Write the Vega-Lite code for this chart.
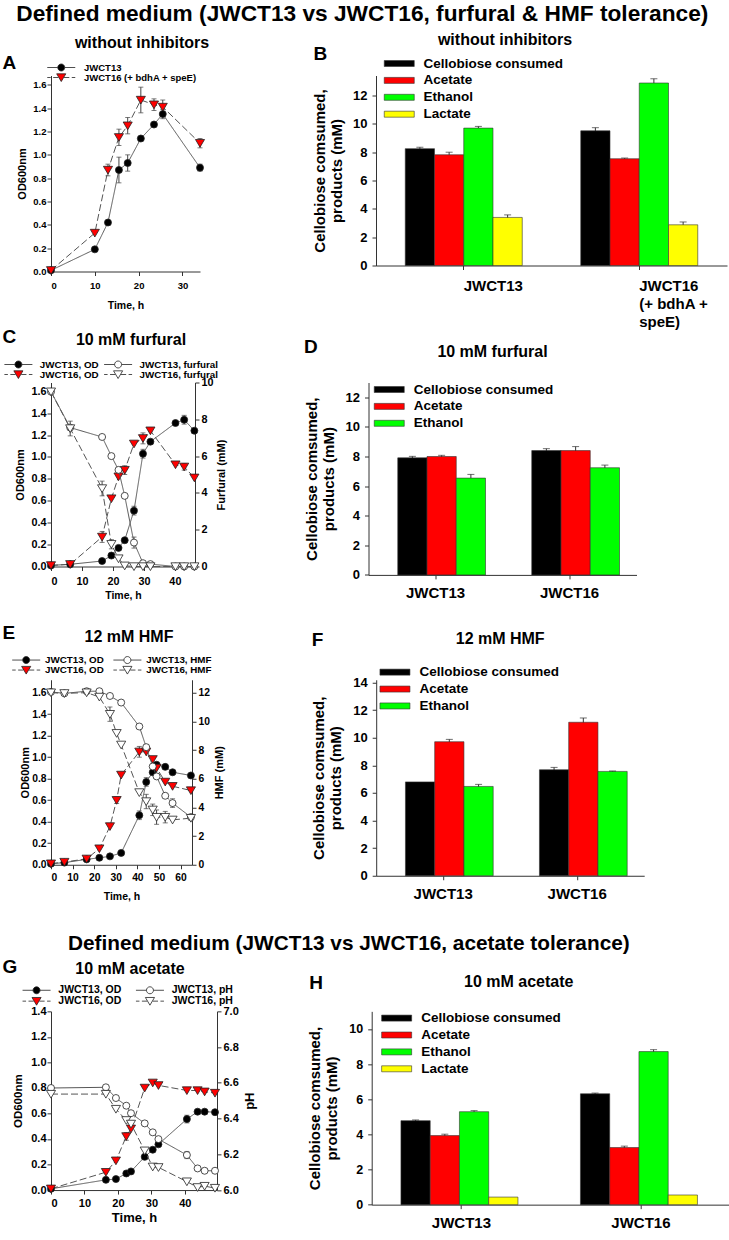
{
"$schema":"https://vega.github.io/schema/vega-lite/v6.json",
"padding":{"left":2,"top":2.5,"right":0,"bottom":0},
"title":{"text":"Defined medium (JWCT13 vs JWCT16, furfural & HMF tolerance)","fontSize":22.7,"anchor":"middle","baseline":"middle","offset":-5,"dx":-4},
"config":{
 "font":"Liberation Sans",
 "view":{"stroke":null},
 "title":{"font":"Liberation Sans","fontWeight":"bold","color":"#000"},
 "axis":{"labelFont":"Liberation Sans","titleFont":"Liberation Sans","labelFontWeight":"bold","titleFontWeight":"bold","labelColor":"#000","titleColor":"#000","domainColor":"#333","tickColor":"#333","grid":false,"tickSize":4},
 "legend":{"labelFont":"Liberation Sans","labelFontWeight":"bold","labelColor":"#000","padding":0}
},
"resolve":{"scale":{"fill":"independent","shape":"independent","strokeDash":"independent"}},
"spacing":-2,
"vconcat":[
{"spacing":98,"resolve":{"scale":{"fill":"independent","shape":"independent","strokeDash":"independent"}},"hconcat":[
 {"vconcat":[
 {"width":149,"height":196,
  "title":{"text":"without inhibitors","fontSize":16,"anchor":"middle","frame":"group","offset":0,"baseline":"middle","dx":16.5,"dy":5.2},
  "data":{"values":[
   {"s":"JWCT13","t":0,"v":0.01},{"s":"JWCT13","t":10,"v":0.19},{"s":"JWCT13","t":13,"v":0.42},{"s":"JWCT13","t":15.5,"v":0.87,"e":0.11},{"s":"JWCT13","t":17.5,"v":0.93,"e":0.07},{"s":"JWCT13","t":20.5,"v":1.14},{"s":"JWCT13","t":23.5,"v":1.26},{"s":"JWCT13","t":25.5,"v":1.35,"e":0.04},{"s":"JWCT13","t":34,"v":0.89,"e":0.03},
   {"s":"JWCT16 (+ bdhA + speE)","t":0,"v":0.01},{"s":"JWCT16 (+ bdhA + speE)","t":10,"v":0.33},{"s":"JWCT16 (+ bdhA + speE)","t":13,"v":0.87,"e":0.05},{"s":"JWCT16 (+ bdhA + speE)","t":15.5,"v":1.15,"e":0.07},{"s":"JWCT16 (+ bdhA + speE)","t":17.5,"v":1.25,"e":0.07},{"s":"JWCT16 (+ bdhA + speE)","t":20.5,"v":1.47,"e":0.11},{"s":"JWCT16 (+ bdhA + speE)","t":23.5,"v":1.43,"e":0.05},{"s":"JWCT16 (+ bdhA + speE)","t":25.5,"v":1.41,"e":0.06},{"s":"JWCT16 (+ bdhA + speE)","t":34,"v":1.10,"e":0.04}
  ]},
  "layer":[
   {"mark":{"type":"line","color":"#555","strokeWidth":1},
    "encoding":{
     "x":{"field":"t","type":"quantitative","scale":{"domain":[0,34],"nice":false,"zero":false},"axis":{"orient":"bottom","values":[0,10,20,30],"title":"Time, h","labelFontSize":9.5,"titleFontSize":10.5,"labelPadding":5,"titlePadding":10}},
     "y":{"field":"v","type":"quantitative","scale":{"domain":[0,1.68],"nice":false},"axis":{"orient":"left","values":[0,0.2,0.4,0.6,0.8,1.0,1.2,1.4,1.6],"format":".1f","title":"OD600nm","labelFontSize":9.5,"titleFontSize":11,"labelPadding":1,"titlePadding":5}},
     "strokeDash":{"field":"s","type":"nominal","scale":{"range":[[1,0],[7,3]]},"legend":null}}},
   {"transform":[{"filter":"datum.e > 0"}],
    "mark":{"type":"errorbar","ticks":{"size":5},"color":"#444"},
    "encoding":{
     "x":{"field":"t","type":"quantitative","scale":{"domain":[0,34],"nice":false,"zero":false},"axis":null},
     "y":{"field":"v","type":"quantitative","scale":{"domain":[0,1.68],"nice":false},"axis":{"orient":"left","values":[0,0.2,0.4,0.6,0.8,1.0,1.2,1.4,1.6],"format":".1f","title":"OD600nm","labelFontSize":9.5,"titleFontSize":11,"labelPadding":1,"titlePadding":5}},
     "yError":{"field":"e"}}},
   {"transform":[{"filter":"indexof(datum.s,'JWCT13')>=0"}],
    "mark":{"type":"point","shape":"circle","filled":true,"fill":"#000000","size":49,"stroke":"#222","strokeWidth":0.8,"opacity":1},
    "encoding":{
     "x":{"field":"t","type":"quantitative","scale":{"domain":[0,34],"nice":false,"zero":false},"axis":null},
     "y":{"field":"v","type":"quantitative","scale":{"domain":[0,1.68],"nice":false},"axis":{"orient":"left","values":[0,0.2,0.4,0.6,0.8,1.0,1.2,1.4,1.6],"format":".1f","title":"OD600nm","labelFontSize":9.5,"titleFontSize":11,"labelPadding":1,"titlePadding":5}}}},
   {"transform":[{"filter":"indexof(datum.s,'JWCT16')>=0"}],
    "mark":{"type":"point","shape":"M0,1.15L-1.3,-1.05L1.3,-1.05Z","filled":true,"fill":"#ff0000","size":49,"stroke":"#222","strokeWidth":0.8,"opacity":1},
    "encoding":{
     "x":{"field":"t","type":"quantitative","scale":{"domain":[0,34],"nice":false,"zero":false},"axis":{"orient":"top","labels":false,"ticks":false,"domain":false,"title":"A","titleFontSize":19,"titleX":-49,"titleY":-13,"titleAlign":"left","titleBaseline":"middle","titleAngle":0}},
     "y":{"field":"v","type":"quantitative","scale":{"domain":[0,1.68],"nice":false},"axis":{"orient":"left","values":[0,0.2,0.4,0.6,0.8,1.0,1.2,1.4,1.6],"format":".1f","title":"OD600nm","labelFontSize":9.5,"titleFontSize":11,"labelPadding":1,"titlePadding":5}}}},
   {"mark":{"type":"point","filled":true,"size":49,"opacity":0},
    "encoding":{
     "x":{"field":"t","type":"quantitative","scale":{"domain":[0,34],"nice":false,"zero":false},"axis":null},
     "y":{"field":"v","type":"quantitative","scale":{"domain":[0,1.68],"nice":false},"axis":{"orient":"left","values":[0,0.2,0.4,0.6,0.8,1.0,1.2,1.4,1.6],"format":".1f","title":"OD600nm","labelFontSize":9.5,"titleFontSize":11,"labelPadding":1,"titlePadding":5}},
     "shape":{"field":"s","type":"nominal","scale":{"domain":["JWCT13","JWCT16 (+ bdhA + speE)"],"range":["M-4,0L-1,0M1,0L4,0M-1,0A1,1,0,1,0,1,0A1,1,0,1,0,-1,0Z","M-4,0L-3,0M-2.3,0L-0.8,0M0.8,0L2.3,0M3,0L4,0M0,1.15L-1.3,-1.05L1.3,-1.05Z"]},"legend":{"title":null,"orient":"none","legendX":5.5,"legendY":-12.75,"labelFontSize":9.5,"labelOffset":18,"rowPadding":-1.5,"symbolSize":49,"symbolOpacity":1,"encode":{"symbols":{"update":{"stroke":{"value":"#222"},"strokeWidth":{"value":0.8},"opacity":{"value":1}}}}}},
     "fill":{"field":"s","type":"nominal","scale":{"domain":["JWCT13","JWCT16 (+ bdhA + speE)"],"range":["#000000","#ff0000"]},"legend":{"title":null,"orient":"none","legendX":5.5,"legendY":-12.75,"labelFontSize":9.5,"labelOffset":18,"rowPadding":-1.5,"symbolSize":49,"symbolOpacity":1,"encode":{"symbols":{"update":{"stroke":{"value":"#222"},"strokeWidth":{"value":0.8},"opacity":{"value":1}}}}}}}}
  ]}]},
 {"vconcat":[
 {"width":351,"height":190,
  "title":{"text":"without inhibitors","fontSize":16,"anchor":"middle","frame":"group","offset":0,"baseline":"middle","dx":-46.5,"dy":11.5},
  "data":{"values":[
   {"strain":"JWCT13","p":"Cellobiose consumed","v":8.24,"e":0.1},{"strain":"JWCT13","p":"Acetate","v":7.81,"e":0.18},{"strain":"JWCT13","p":"Ethanol","v":9.69,"e":0.12},{"strain":"JWCT13","p":"Lactate","v":3.39,"e":0.18},
   {"strain":"JWCT16","p":"Cellobiose consumed","v":9.5,"e":0.22},{"strain":"JWCT16","p":"Acetate","v":7.53,"e":0.05},{"strain":"JWCT16","p":"Ethanol","v":12.87,"e":0.3},{"strain":"JWCT16","p":"Lactate","v":2.87,"e":0.2}
  ]},
  "layer":[
   {"transform":[{"filter":"datum.e > 0"}],
    "mark":{"type":"errorbar","ticks":{"size":7},"color":"#333"},
    "encoding":{
     "x":{"field":"strain","type":"nominal","scale":{"paddingInner":0,"paddingOuter":0},"axis":{"orient":"top","labels":false,"ticks":false,"domain":false,"title":"B","titleFontSize":19,"titleX":-63,"titleY":-22,"titleAlign":"left","titleBaseline":"middle","titleAngle":0}},
     "xOffset":{"field":"p","type":"nominal","scale":{"domain":["Cellobiose consumed","Acetate","Ethanol","Lactate"],"paddingInner":0,"paddingOuter":1.31}},
     "y":{"field":"v","type":"quantitative","scale":{"domain":[0,13.4],"nice":false},"axis":{"values":[0,2,4,6,8,10,12],"format":"d","title":["Cellobiose comsumed,","products (mM)"],"labelFontSize":13,"titleFontSize":15,"titleLineHeight":17,"labelPadding":5,"titlePadding":8}},
     "yError":{"field":"e"}}},
   {"mark":{"type":"bar","stroke":"#333","strokeWidth":0.6},
    "encoding":{
     "x":{"field":"strain","type":"nominal","scale":{"paddingInner":0,"paddingOuter":0},"axis":{"orient":"bottom","title":null,"labelAngle":0,"labelFontSize":15,"labelPadding":9,"labelAlign":"left","labelDx":-29,"labelLineHeight":18,"labelExpr":"datum.value == 'JWCT16' ? ['JWCT16', '(+ bdhA +', 'speE)'] : datum.value"}},
     "xOffset":{"field":"p","type":"nominal","scale":{"domain":["Cellobiose consumed","Acetate","Ethanol","Lactate"],"paddingInner":0,"paddingOuter":1.31}},
     "y":{"field":"v","type":"quantitative","scale":{"domain":[0,13.4],"nice":false},"axis":{"values":[0,2,4,6,8,10,12],"format":"d","title":["Cellobiose comsumed,","products (mM)"],"labelFontSize":13,"titleFontSize":15,"titleLineHeight":17,"labelPadding":5,"titlePadding":8}},
     "fill":{"field":"p","type":"nominal","scale":{"domain":["Cellobiose consumed","Acetate","Ethanol","Lactate"],"range":["#000000","#ff0000","#00ff00","#ffff00"]},
      "legend":{"title":null,"orient":"none","legendX":16.5,"legendY":-18.75,"symbolType":"M-3,-0.6H3V0.6H-3Z","symbolSize":100,"symbolStrokeColor":"#333","symbolStrokeWidth":0.6,"labelFontSize":13.5,"labelOffset":17.5,"rowPadding":1.9,"encode":{"symbols":{"update":{"stroke":{"value":"#333"},"strokeWidth":{"value":0.6}}}}}}}}
  ]}]}
]},
{"spacing":22.25,"resolve":{"scale":{"fill":"independent","shape":"independent","strokeDash":"independent"}},"vconcat":[
 {"spacing":76.5,"resolve":{"scale":{"fill":"independent","shape":"independent","strokeDash":"independent"}},"hconcat":[
  {"vconcat":[
  {"width":144,"height":184,
   "title":{"text":"10 mM furfural","fontSize":16,"anchor":"middle","frame":"group","offset":0,"baseline":"middle","dx":8,"dy":28.7},
   "data":{"values":[
    {"s":"JWCT13, OD","k":"OD","t":0,"v":0.01},{"s":"JWCT13, OD","k":"OD","t":6.2,"v":0.02},{"s":"JWCT13, OD","k":"OD","t":16.5,"v":0.05},{"s":"JWCT13, OD","k":"OD","t":19.5,"v":0.10},{"s":"JWCT13, OD","k":"OD","t":21.8,"v":0.17},{"s":"JWCT13, OD","k":"OD","t":23.8,"v":0.24},{"s":"JWCT13, OD","k":"OD","t":26.8,"v":0.51,"e":0.04},{"s":"JWCT13, OD","k":"OD","t":29.7,"v":1.03,"e":0.04},{"s":"JWCT13, OD","k":"OD","t":32.1,"v":1.14},{"s":"JWCT13, OD","k":"OD","t":40.2,"v":1.31},{"s":"JWCT13, OD","k":"OD","t":43,"v":1.34,"e":0.04},{"s":"JWCT13, OD","k":"OD","t":46.3,"v":1.24},
    {"s":"JWCT16, OD","k":"OD","t":0,"v":0.01},{"s":"JWCT16, OD","k":"OD","t":6.2,"v":0.02},{"s":"JWCT16, OD","k":"OD","t":16.5,"v":0.27,"e":0.05},{"s":"JWCT16, OD","k":"OD","t":19.5,"v":0.62},{"s":"JWCT16, OD","k":"OD","t":21.8,"v":0.82},{"s":"JWCT16, OD","k":"OD","t":23.8,"v":0.88,"e":0.04},{"s":"JWCT16, OD","k":"OD","t":26.8,"v":1.12},{"s":"JWCT16, OD","k":"OD","t":29.7,"v":1.17,"e":0.05},{"s":"JWCT16, OD","k":"OD","t":32.1,"v":1.24},{"s":"JWCT16, OD","k":"OD","t":40.2,"v":0.93},{"s":"JWCT16, OD","k":"OD","t":43,"v":0.91,"e":0.03},{"s":"JWCT16, OD","k":"OD","t":46.3,"v":0.81},
    {"s":"JWCT13, furfural","k":"F","t":0,"v":9.5},{"s":"JWCT13, furfural","k":"F","t":6.2,"v":7.55},{"s":"JWCT13, furfural","k":"F","t":16.5,"v":7.04},{"s":"JWCT13, furfural","k":"F","t":19.5,"v":6.0},{"s":"JWCT13, furfural","k":"F","t":21.8,"v":5.25},{"s":"JWCT13, furfural","k":"F","t":23.8,"v":3.84},{"s":"JWCT13, furfural","k":"F","t":26.8,"v":1.3,"e":0.3},{"s":"JWCT13, furfural","k":"F","t":29.7,"v":0.18},{"s":"JWCT13, furfural","k":"F","t":32.1,"v":0.13},{"s":"JWCT13, furfural","k":"F","t":40.2,"v":0},{"s":"JWCT13, furfural","k":"F","t":43,"v":0},{"s":"JWCT13, furfural","k":"F","t":46.3,"v":0},
    {"s":"JWCT16, furfural","k":"F","t":0,"v":9.5},{"s":"JWCT16, furfural","k":"F","t":6.2,"v":7.5,"e":0.4},{"s":"JWCT16, furfural","k":"F","t":16.5,"v":4.24,"e":0.4},{"s":"JWCT16, furfural","k":"F","t":19.5,"v":1.21,"e":0.25},{"s":"JWCT16, furfural","k":"F","t":21.8,"v":0.43},{"s":"JWCT16, furfural","k":"F","t":23.8,"v":0.04},{"s":"JWCT16, furfural","k":"F","t":26.8,"v":0},{"s":"JWCT16, furfural","k":"F","t":29.7,"v":0},{"s":"JWCT16, furfural","k":"F","t":32.1,"v":0},{"s":"JWCT16, furfural","k":"F","t":40.2,"v":0},{"s":"JWCT16, furfural","k":"F","t":43,"v":0},{"s":"JWCT16, furfural","k":"F","t":46.3,"v":0}
   ]},
   "resolve":{"scale":{"y":"independent"}},
   "layer":[
    {"transform":[{"filter":"datum.k == 'OD'"}],
     "layer":[
      {"mark":{"type":"line","color":"#555","strokeWidth":1},
       "encoding":{
        "x":{"field":"t","type":"quantitative","scale":{"domain":[0,46.5],"nice":false,"zero":false},"axis":{"orient":"bottom","values":[0,10,20,30,40],"title":"Time, h","labelFontSize":10.8,"titleFontSize":10.5,"labelPadding":4.5,"titlePadding":4.5}},
        "y":{"field":"v","type":"quantitative","scale":{"domain":[0,1.68],"nice":false},"axis":{"orient":"left","values":[0,0.2,0.4,0.6,0.8,1.0,1.2,1.4,1.6],"format":".1f","title":"OD600nm","labelFontSize":10.8,"titleFontSize":11,"labelPadding":1,"titlePadding":5.8}},
        "strokeDash":{"field":"s","type":"nominal","scale":{"range":[[1,0],[1,0],[7,3],[7,3]]},"legend":null}}},
      {"transform":[{"filter":"datum.e > 0"}],
       "mark":{"type":"errorbar","ticks":{"size":5},"color":"#444"},
       "encoding":{
        "x":{"field":"t","type":"quantitative","scale":{"domain":[0,46.5],"nice":false,"zero":false},"axis":null},
        "y":{"field":"v","type":"quantitative","scale":{"domain":[0,1.68],"nice":false},"axis":{"orient":"left","values":[0,0.2,0.4,0.6,0.8,1.0,1.2,1.4,1.6],"format":".1f","title":"OD600nm","labelFontSize":10.8,"titleFontSize":11,"labelPadding":1,"titlePadding":5.8}},
        "yError":{"field":"e"}}},
      {"transform":[{"filter":"indexof(datum.s,'JWCT13')>=0"}],
       "mark":{"type":"point","shape":"circle","filled":true,"fill":"#000000","size":49,"stroke":"#222","strokeWidth":0.8,"opacity":1},
       "encoding":{
        "x":{"field":"t","type":"quantitative","scale":{"domain":[0,46.5],"nice":false,"zero":false},"axis":null},
        "y":{"field":"v","type":"quantitative","scale":{"domain":[0,1.68],"nice":false},"axis":{"orient":"left","values":[0,0.2,0.4,0.6,0.8,1.0,1.2,1.4,1.6],"format":".1f","title":"OD600nm","labelFontSize":10.8,"titleFontSize":11,"labelPadding":1,"titlePadding":5.8}}}},
      {"transform":[{"filter":"indexof(datum.s,'JWCT16')>=0"}],
       "mark":{"type":"point","shape":"M0,1.15L-1.3,-1.05L1.3,-1.05Z","filled":true,"fill":"#ff0000","size":49,"stroke":"#222","strokeWidth":0.8,"opacity":1},
       "encoding":{
        "x":{"field":"t","type":"quantitative","scale":{"domain":[0,46.5],"nice":false,"zero":false},"axis":{"orient":"top","labels":false,"ticks":false,"domain":false,"title":"C","titleFontSize":19,"titleX":-49,"titleY":-46,"titleAlign":"left","titleBaseline":"middle","titleAngle":0}},
        "y":{"field":"v","type":"quantitative","scale":{"domain":[0,1.68],"nice":false},"axis":{"orient":"left","values":[0,0.2,0.4,0.6,0.8,1.0,1.2,1.4,1.6],"format":".1f","title":"OD600nm","labelFontSize":10.8,"titleFontSize":11,"labelPadding":1,"titlePadding":5.8}}}},
      {"mark":{"type":"point","filled":true,"size":49,"opacity":0},
       "encoding":{
        "x":{"field":"t","type":"quantitative","scale":{"domain":[0,46.5],"nice":false,"zero":false},"axis":null},
        "y":{"field":"v","type":"quantitative","scale":{"domain":[0,1.68],"nice":false},"axis":{"orient":"left","values":[0,0.2,0.4,0.6,0.8,1.0,1.2,1.4,1.6],"format":".1f","title":"OD600nm","labelFontSize":10.8,"titleFontSize":11,"labelPadding":1,"titlePadding":5.8}},
        "shape":{"field":"s","type":"nominal","scale":{"domain":["JWCT13, OD","JWCT13, furfural","JWCT16, OD","JWCT16, furfural"],"range":["M-4,0L-1,0M1,0L4,0M-1,0A1,1,0,1,0,1,0A1,1,0,1,0,-1,0Z","M-4,0L-1,0M1,0L4,0M-1,0A1,1,0,1,0,1,0A1,1,0,1,0,-1,0Z","M-4,0L-3,0M-2.3,0L-0.8,0M0.8,0L2.3,0M3,0L4,0M0,1.15L-1.3,-1.05L1.3,-1.05Z","M-4,0L-3,0M-2.3,0L-0.8,0M0.8,0L2.3,0M3,0L4,0M0,1.15L-1.3,-1.05L1.3,-1.05Z"]},"legend":{"title":null,"orient":"none","legendX":-37.5,"legendY":-22.9,"direction":"horizontal","columns":2,"columnPadding":2.7,"rowPadding":-1.9,"labelFontSize":9.8,"labelOffset":16.5,"symbolSize":49,"symbolOpacity":1,"encode":{"symbols":{"update":{"stroke":{"value":"#222"},"strokeWidth":{"value":0.8},"opacity":{"value":1}}}}}},
        "fill":{"field":"s","type":"nominal","scale":{"domain":["JWCT13, OD","JWCT13, furfural","JWCT16, OD","JWCT16, furfural"],"range":["#000000","#ffffff","#ff0000","#ffffff"]},"legend":{"title":null,"orient":"none","legendX":-37.5,"legendY":-22.9,"direction":"horizontal","columns":2,"columnPadding":2.7,"rowPadding":-1.9,"labelFontSize":9.8,"labelOffset":16.5,"symbolSize":49,"symbolOpacity":1,"encode":{"symbols":{"update":{"stroke":{"value":"#222"},"strokeWidth":{"value":0.8},"opacity":{"value":1}}}}}}}}
     ]},
    {"transform":[{"filter":"datum.k == 'F'"}],
     "layer":[
      {"mark":{"type":"line","color":"#555","strokeWidth":1},
       "encoding":{
        "x":{"field":"t","type":"quantitative","scale":{"domain":[0,46.5],"nice":false,"zero":false},"axis":null},
        "y":{"field":"v","type":"quantitative","scale":{"domain":[0,10],"nice":false},"axis":{"orient":"right","values":[0,2,4,6,8,10],"format":"d","title":"Furfural (mM)","titleAngle":270,"titleBaseline":"top","labelFontSize":10.8,"titleFontSize":11,"labelPadding":2,"titlePadding":2.5}},
        "strokeDash":{"field":"s","type":"nominal","scale":{"range":[[1,0],[1,0],[7,3],[7,3]]},"legend":null}}},
      {"transform":[{"filter":"datum.e > 0"}],
       "mark":{"type":"errorbar","ticks":{"size":5},"color":"#444"},
       "encoding":{
        "x":{"field":"t","type":"quantitative","scale":{"domain":[0,46.5],"nice":false,"zero":false},"axis":null},
        "y":{"field":"v","type":"quantitative","scale":{"domain":[0,10],"nice":false},"axis":{"orient":"right","values":[0,2,4,6,8,10],"format":"d","title":"Furfural (mM)","titleAngle":270,"titleBaseline":"top","labelFontSize":10.8,"titleFontSize":11,"labelPadding":2,"titlePadding":2.5}},
        "yError":{"field":"e"}}},
      {"transform":[{"filter":"indexof(datum.s,'JWCT13')>=0"}],
       "mark":{"type":"point","shape":"circle","filled":true,"fill":"#ffffff","size":49,"stroke":"#222","strokeWidth":0.8,"opacity":1},
       "encoding":{
        "x":{"field":"t","type":"quantitative","scale":{"domain":[0,46.5],"nice":false,"zero":false},"axis":null},
        "y":{"field":"v","type":"quantitative","scale":{"domain":[0,10],"nice":false},"axis":{"orient":"right","values":[0,2,4,6,8,10],"format":"d","title":"Furfural (mM)","titleAngle":270,"titleBaseline":"top","labelFontSize":10.8,"titleFontSize":11,"labelPadding":2,"titlePadding":2.5}}}},
      {"transform":[{"filter":"indexof(datum.s,'JWCT16')>=0"}],
       "mark":{"type":"point","shape":"M0,1.15L-1.3,-1.05L1.3,-1.05Z","filled":true,"fill":"#ffffff","size":49,"stroke":"#222","strokeWidth":0.8,"opacity":1},
       "encoding":{
        "x":{"field":"t","type":"quantitative","scale":{"domain":[0,46.5],"nice":false,"zero":false},"axis":null},
        "y":{"field":"v","type":"quantitative","scale":{"domain":[0,10],"nice":false},"axis":{"orient":"right","values":[0,2,4,6,8,10],"format":"d","title":"Furfural (mM)","titleAngle":270,"titleBaseline":"top","labelFontSize":10.8,"titleFontSize":11,"labelPadding":2,"titlePadding":2.5}}}}
     ]}
   ]}]},
  {"vconcat":[
  {"width":268,"height":192.4,
   "title":{"text":"10 mM furfural","fontSize":16,"anchor":"middle","frame":"group","offset":0,"baseline":"middle","dx":-10,"dy":30.1},
   "data":{"values":[
    {"strain":"JWCT13","p":"Cellobiose consumed","v":7.91,"e":0.1},{"strain":"JWCT13","p":"Acetate","v":8.0,"e":0.08},{"strain":"JWCT13","p":"Ethanol","v":6.54,"e":0.25},
    {"strain":"JWCT16","p":"Cellobiose consumed","v":8.4,"e":0.13},{"strain":"JWCT16","p":"Acetate","v":8.4,"e":0.27},{"strain":"JWCT16","p":"Ethanol","v":7.24,"e":0.18}
   ]},
   "layer":[
    {"transform":[{"filter":"datum.e > 0"}],
     "mark":{"type":"errorbar","ticks":{"size":7},"color":"#333"},
     "encoding":{
      "x":{"field":"strain","type":"nominal","scale":{"paddingInner":0,"paddingOuter":0},"axis":{"orient":"top","labels":false,"ticks":false,"domain":false,"title":"D","titleFontSize":19,"titleX":-65,"titleY":-36,"titleAlign":"left","titleBaseline":"middle","titleAngle":0}},
      "xOffset":{"field":"p","type":"nominal","scale":{"domain":["Cellobiose consumed","Acetate","Ethanol"],"paddingInner":0,"paddingOuter":1.01}},
      "y":{"field":"v","type":"quantitative","scale":{"domain":[0,13],"nice":false},"axis":{"values":[0,2,4,6,8,10,12],"format":"d","title":["Cellobiose comsumed,","products (mM)"],"labelFontSize":13,"titleFontSize":15,"titleLineHeight":17,"labelPadding":5,"titlePadding":9}},
      "yError":{"field":"e"}}},
    {"mark":{"type":"bar","stroke":"#333","strokeWidth":0.6},
     "encoding":{
      "x":{"field":"strain","type":"nominal","scale":{"paddingInner":0,"paddingOuter":0},"axis":{"orient":"bottom","title":null,"labelAngle":0,"labelFontSize":15,"labelPadding":7}},
      "xOffset":{"field":"p","type":"nominal","scale":{"domain":["Cellobiose consumed","Acetate","Ethanol"],"paddingInner":0,"paddingOuter":1.01}},
      "y":{"field":"v","type":"quantitative","scale":{"domain":[0,13],"nice":false},"axis":{"values":[0,2,4,6,8,10,12],"format":"d","title":["Cellobiose comsumed,","products (mM)"],"labelFontSize":13,"titleFontSize":15,"titleLineHeight":17,"labelPadding":5,"titlePadding":9}},
      "fill":{"field":"p","type":"nominal","scale":{"domain":["Cellobiose consumed","Acetate","Ethanol"],"range":["#000000","#ff0000","#00ff00"]},
       "legend":{"title":null,"orient":"none","legendX":14,"legendY":0.25,"symbolType":"M-3,-0.6H3V0.6H-3Z","symbolSize":100,"symbolStrokeColor":"#333","symbolStrokeWidth":0.6,"labelFontSize":13.5,"labelOffset":17.7,"rowPadding":1.9,"encode":{"symbols":{"update":{"stroke":{"value":"#333"},"strokeWidth":{"value":0.6}}}}}}}}
   ]}]}
 ]},
 {"spacing":30.6,"resolve":{"scale":{"fill":"independent","shape":"independent","strokeDash":"independent"}},"vconcat":[
  {"spacing":86.2,"resolve":{"scale":{"fill":"independent","shape":"independent","strokeDash":"independent"}},"hconcat":[
   {"vconcat":[
   {"width":141,"height":185,
    "title":{"text":"12 mM HMF","fontSize":16,"anchor":"middle","frame":"group","offset":0,"baseline":"middle","dx":7.5,"dy":29.1},
    "data":{"values":[
     {"s":"JWCT13, OD","k":"OD","t":0,"v":0.01},{"s":"JWCT13, OD","k":"OD","t":6.2,"v":0.02},{"s":"JWCT13, OD","k":"OD","t":16.5,"v":0.05},{"s":"JWCT13, OD","k":"OD","t":22.4,"v":0.065},{"s":"JWCT13, OD","k":"OD","t":27.3,"v":0.078},{"s":"JWCT13, OD","k":"OD","t":32.5,"v":0.11},{"s":"JWCT13, OD","k":"OD","t":40.9,"v":0.46,"e":0.04},{"s":"JWCT13, OD","k":"OD","t":44.1,"v":0.77,"e":0.04},{"s":"JWCT13, OD","k":"OD","t":47.1,"v":0.86},{"s":"JWCT13, OD","k":"OD","t":48.9,"v":0.93},{"s":"JWCT13, OD","k":"OD","t":52.9,"v":0.91},{"s":"JWCT13, OD","k":"OD","t":56.3,"v":0.86},{"s":"JWCT13, OD","k":"OD","t":64.8,"v":0.83},
     {"s":"JWCT16, OD","k":"OD","t":0,"v":0.01},{"s":"JWCT16, OD","k":"OD","t":6.2,"v":0.025},{"s":"JWCT16, OD","k":"OD","t":16.5,"v":0.055},{"s":"JWCT16, OD","k":"OD","t":22.4,"v":0.15},{"s":"JWCT16, OD","k":"OD","t":27.3,"v":0.356},{"s":"JWCT16, OD","k":"OD","t":30.4,"v":0.60,"e":0.03},{"s":"JWCT16, OD","k":"OD","t":32.5,"v":0.835},{"s":"JWCT16, OD","k":"OD","t":40.9,"v":1.05,"e":0.05},{"s":"JWCT16, OD","k":"OD","t":44.1,"v":1.05},{"s":"JWCT16, OD","k":"OD","t":47.1,"v":0.98},{"s":"JWCT16, OD","k":"OD","t":48.9,"v":0.90},{"s":"JWCT16, OD","k":"OD","t":52.9,"v":0.77},{"s":"JWCT16, OD","k":"OD","t":56.3,"v":0.73},{"s":"JWCT16, OD","k":"OD","t":64.8,"v":0.69},
     {"s":"JWCT13, HMF","k":"F","t":0,"v":12.05},{"s":"JWCT13, HMF","k":"F","t":6.2,"v":11.95},{"s":"JWCT13, HMF","k":"F","t":16.5,"v":12.1},{"s":"JWCT13, HMF","k":"F","t":22.4,"v":12.1},{"s":"JWCT13, HMF","k":"F","t":27.3,"v":11.77},{"s":"JWCT13, HMF","k":"F","t":32.5,"v":11.31},{"s":"JWCT13, HMF","k":"F","t":40.9,"v":9.64},{"s":"JWCT13, HMF","k":"F","t":44.1,"v":8.2},{"s":"JWCT13, HMF","k":"F","t":47.1,"v":6.85},{"s":"JWCT13, HMF","k":"F","t":48.9,"v":6.16},{"s":"JWCT13, HMF","k":"F","t":52.9,"v":4.81},{"s":"JWCT13, HMF","k":"F","t":56.3,"v":4.30,"e":0.3},{"s":"JWCT13, HMF","k":"F","t":64.8,"v":3.32,"e":0.2},
     {"s":"JWCT16, HMF","k":"F","t":0,"v":12.0},{"s":"JWCT16, HMF","k":"F","t":6.2,"v":11.95},{"s":"JWCT16, HMF","k":"F","t":16.5,"v":12.0},{"s":"JWCT16, HMF","k":"F","t":22.4,"v":11.7},{"s":"JWCT16, HMF","k":"F","t":27.3,"v":10.5,"e":0.5},{"s":"JWCT16, HMF","k":"F","t":30.4,"v":9.17},{"s":"JWCT16, HMF","k":"F","t":32.5,"v":8.36},{"s":"JWCT16, HMF","k":"F","t":40.9,"v":5.04},{"s":"JWCT16, HMF","k":"F","t":44.1,"v":4.41,"e":0.5},{"s":"JWCT16, HMF","k":"F","t":47.1,"v":3.83,"e":0.4},{"s":"JWCT16, HMF","k":"F","t":48.9,"v":3.32,"e":0.5},{"s":"JWCT16, HMF","k":"F","t":52.9,"v":3.32,"e":0.4},{"s":"JWCT16, HMF","k":"F","t":56.3,"v":3.13},{"s":"JWCT16, HMF","k":"F","t":64.8,"v":3.25}
    ]},
    "resolve":{"scale":{"y":"independent"}},
    "layer":[
     {"transform":[{"filter":"datum.k == 'OD'"}],
      "layer":[
       {"mark":{"type":"line","color":"#555","strokeWidth":1},
        "encoding":{
         "x":{"field":"t","type":"quantitative","scale":{"domain":[0,65.3],"nice":false,"zero":false},"axis":{"orient":"bottom","values":[0,10,20,30,40,50,60],"title":"Time, h","labelFontSize":10.3,"titleFontSize":10.5,"labelPadding":4,"titlePadding":8}},
         "y":{"field":"v","type":"quantitative","scale":{"domain":[0,1.72],"nice":false},"axis":{"orient":"left","values":[0,0.2,0.4,0.6,0.8,1.0,1.2,1.4,1.6],"format":".1f","title":"OD600nm","labelFontSize":10.3,"titleFontSize":11,"labelPadding":1,"titlePadding":1}},
         "strokeDash":{"field":"s","type":"nominal","scale":{"range":[[1,0],[1,0],[7,3],[7,3]]},"legend":null}}},
       {"transform":[{"filter":"datum.e > 0"}],
        "mark":{"type":"errorbar","ticks":{"size":5},"color":"#444"},
        "encoding":{
         "x":{"field":"t","type":"quantitative","scale":{"domain":[0,65.3],"nice":false,"zero":false},"axis":null},
         "y":{"field":"v","type":"quantitative","scale":{"domain":[0,1.72],"nice":false},"axis":{"orient":"left","values":[0,0.2,0.4,0.6,0.8,1.0,1.2,1.4,1.6],"format":".1f","title":"OD600nm","labelFontSize":10.3,"titleFontSize":11,"labelPadding":1,"titlePadding":1}},
         "yError":{"field":"e"}}},
       {"transform":[{"filter":"indexof(datum.s,'JWCT13')>=0"}],
        "mark":{"type":"point","shape":"circle","filled":true,"fill":"#000000","size":49,"stroke":"#222","strokeWidth":0.8,"opacity":1},
        "encoding":{
         "x":{"field":"t","type":"quantitative","scale":{"domain":[0,65.3],"nice":false,"zero":false},"axis":null},
         "y":{"field":"v","type":"quantitative","scale":{"domain":[0,1.72],"nice":false},"axis":{"orient":"left","values":[0,0.2,0.4,0.6,0.8,1.0,1.2,1.4,1.6],"format":".1f","title":"OD600nm","labelFontSize":10.3,"titleFontSize":11,"labelPadding":1,"titlePadding":1}}}},
       {"transform":[{"filter":"indexof(datum.s,'JWCT16')>=0"}],
        "mark":{"type":"point","shape":"M0,1.15L-1.3,-1.05L1.3,-1.05Z","filled":true,"fill":"#ff0000","size":49,"stroke":"#222","strokeWidth":0.8,"opacity":1},
        "encoding":{
         "x":{"field":"t","type":"quantitative","scale":{"domain":[0,65.3],"nice":false,"zero":false},"axis":{"orient":"top","labels":false,"ticks":false,"domain":false,"title":"E","titleFontSize":19,"titleX":-49,"titleY":-47,"titleAlign":"left","titleBaseline":"middle","titleAngle":0}},
         "y":{"field":"v","type":"quantitative","scale":{"domain":[0,1.72],"nice":false},"axis":{"orient":"left","values":[0,0.2,0.4,0.6,0.8,1.0,1.2,1.4,1.6],"format":".1f","title":"OD600nm","labelFontSize":10.3,"titleFontSize":11,"labelPadding":1,"titlePadding":1}}}},
       {"mark":{"type":"point","filled":true,"size":49,"opacity":0},
        "encoding":{
         "x":{"field":"t","type":"quantitative","scale":{"domain":[0,65.3],"nice":false,"zero":false},"axis":null},
         "y":{"field":"v","type":"quantitative","scale":{"domain":[0,1.72],"nice":false},"axis":{"orient":"left","values":[0,0.2,0.4,0.6,0.8,1.0,1.2,1.4,1.6],"format":".1f","title":"OD600nm","labelFontSize":10.3,"titleFontSize":11,"labelPadding":1,"titlePadding":1}},
         "shape":{"field":"s","type":"nominal","scale":{"domain":["JWCT13, OD","JWCT13, HMF","JWCT16, OD","JWCT16, HMF"],"range":["M-4,0L-1,0M1,0L4,0M-1,0A1,1,0,1,0,1,0A1,1,0,1,0,-1,0Z","M-4,0L-1,0M1,0L4,0M-1,0A1,1,0,1,0,1,0A1,1,0,1,0,-1,0Z","M-4,0L-3,0M-2.3,0L-0.8,0M0.8,0L2.3,0M3,0L4,0M0,1.15L-1.3,-1.05L1.3,-1.05Z","M-4,0L-3,0M-2.3,0L-0.8,0M0.8,0L2.3,0M3,0L4,0M0,1.15L-1.3,-1.05L1.3,-1.05Z"]},"legend":{"title":null,"orient":"none","legendX":-29.7,"legendY":-24.6,"direction":"horizontal","columns":2,"columnPadding":7.2,"rowPadding":-3.8,"labelFontSize":9.8,"labelOffset":13.9,"symbolSize":49,"symbolOpacity":1,"encode":{"symbols":{"update":{"stroke":{"value":"#222"},"strokeWidth":{"value":0.8},"opacity":{"value":1}}}}}},
         "fill":{"field":"s","type":"nominal","scale":{"domain":["JWCT13, OD","JWCT13, HMF","JWCT16, OD","JWCT16, HMF"],"range":["#000000","#ffffff","#ff0000","#ffffff"]},"legend":{"title":null,"orient":"none","legendX":-29.7,"legendY":-24.6,"direction":"horizontal","columns":2,"columnPadding":7.2,"rowPadding":-3.8,"labelFontSize":9.8,"labelOffset":13.9,"symbolSize":49,"symbolOpacity":1,"encode":{"symbols":{"update":{"stroke":{"value":"#222"},"strokeWidth":{"value":0.8},"opacity":{"value":1}}}}}}}}
      ]},
     {"transform":[{"filter":"datum.k == 'F'"}],
      "layer":[
       {"mark":{"type":"line","color":"#555","strokeWidth":1},
        "encoding":{
         "x":{"field":"t","type":"quantitative","scale":{"domain":[0,65.3],"nice":false,"zero":false},"axis":null},
         "y":{"field":"v","type":"quantitative","scale":{"domain":[0,12.9],"nice":false},"axis":{"orient":"right","values":[0,2,4,6,8,10,12],"format":"d","title":"HMF (mM)","titleAngle":270,"titleBaseline":"top","labelFontSize":10.3,"titleFontSize":11,"labelPadding":2,"titlePadding":4.3}},
         "strokeDash":{"field":"s","type":"nominal","scale":{"range":[[1,0],[1,0],[7,3],[7,3]]},"legend":null}}},
       {"transform":[{"filter":"datum.e > 0"}],
        "mark":{"type":"errorbar","ticks":{"size":5},"color":"#444"},
        "encoding":{
         "x":{"field":"t","type":"quantitative","scale":{"domain":[0,65.3],"nice":false,"zero":false},"axis":null},
         "y":{"field":"v","type":"quantitative","scale":{"domain":[0,12.9],"nice":false},"axis":{"orient":"right","values":[0,2,4,6,8,10,12],"format":"d","title":"HMF (mM)","titleAngle":270,"titleBaseline":"top","labelFontSize":10.3,"titleFontSize":11,"labelPadding":2,"titlePadding":4.3}},
         "yError":{"field":"e"}}},
       {"transform":[{"filter":"indexof(datum.s,'JWCT13')>=0"}],
        "mark":{"type":"point","shape":"circle","filled":true,"fill":"#ffffff","size":49,"stroke":"#222","strokeWidth":0.8,"opacity":1},
        "encoding":{
         "x":{"field":"t","type":"quantitative","scale":{"domain":[0,65.3],"nice":false,"zero":false},"axis":null},
         "y":{"field":"v","type":"quantitative","scale":{"domain":[0,12.9],"nice":false},"axis":{"orient":"right","values":[0,2,4,6,8,10,12],"format":"d","title":"HMF (mM)","titleAngle":270,"titleBaseline":"top","labelFontSize":10.3,"titleFontSize":11,"labelPadding":2,"titlePadding":4.3}}}},
       {"transform":[{"filter":"indexof(datum.s,'JWCT16')>=0"}],
        "mark":{"type":"point","shape":"M0,1.15L-1.3,-1.05L1.3,-1.05Z","filled":true,"fill":"#ffffff","size":49,"stroke":"#222","strokeWidth":0.8,"opacity":1},
        "encoding":{
         "x":{"field":"t","type":"quantitative","scale":{"domain":[0,65.3],"nice":false,"zero":false},"axis":null},
         "y":{"field":"v","type":"quantitative","scale":{"domain":[0,12.9],"nice":false},"axis":{"orient":"right","values":[0,2,4,6,8,10,12],"format":"d","title":"HMF (mM)","titleAngle":270,"titleBaseline":"top","labelFontSize":10.3,"titleFontSize":11,"labelPadding":2,"titlePadding":4.3}}}}
      ]}
    ]}]},
   {"vconcat":[
   {"width":268,"height":196,
    "title":{"text":"12 mM HMF","fontSize":16,"anchor":"middle","frame":"group","offset":0,"baseline":"middle","dx":-10,"dy":24.1},
    "data":{"values":[
     {"strain":"JWCT13","p":"Cellobiose consumed","v":6.8,"e":0},{"strain":"JWCT13","p":"Acetate","v":9.71,"e":0.17},{"strain":"JWCT13","p":"Ethanol","v":6.47,"e":0.15},
     {"strain":"JWCT16","p":"Cellobiose consumed","v":7.68,"e":0.17},{"strain":"JWCT16","p":"Acetate","v":11.12,"e":0.31},{"strain":"JWCT16","p":"Ethanol","v":7.56,"e":0.03}
    ]},
    "layer":[
     {"transform":[{"filter":"datum.e > 0"}],
      "mark":{"type":"errorbar","ticks":{"size":7},"color":"#333"},
      "encoding":{
       "x":{"field":"strain","type":"nominal","scale":{"paddingInner":0,"paddingOuter":0},"axis":{"orient":"top","labels":false,"ticks":false,"domain":false,"title":"F","titleFontSize":19,"titleX":-65,"titleY":-40,"titleAlign":"left","titleBaseline":"middle","titleAngle":0}},
       "xOffset":{"field":"p","type":"nominal","scale":{"domain":["Cellobiose consumed","Acetate","Ethanol"],"paddingInner":0,"paddingOuter":1.01}},
       "y":{"field":"v","type":"quantitative","scale":{"domain":[0,14.2],"nice":false},"axis":{"values":[0,2,4,6,8,10,12,14],"format":"d","title":["Cellobiose comsumed,","products (mM)"],"labelFontSize":13,"titleFontSize":15,"titleLineHeight":17,"labelPadding":5,"titlePadding":9}},
       "yError":{"field":"e"}}},
     {"mark":{"type":"bar","stroke":"#333","strokeWidth":0.6},
      "encoding":{
       "x":{"field":"strain","type":"nominal","scale":{"paddingInner":0,"paddingOuter":0},"axis":{"orient":"bottom","title":null,"labelAngle":0,"labelFontSize":15,"labelPadding":7}},
       "xOffset":{"field":"p","type":"nominal","scale":{"domain":["Cellobiose consumed","Acetate","Ethanol"],"paddingInner":0,"paddingOuter":1.01}},
       "y":{"field":"v","type":"quantitative","scale":{"domain":[0,14.2],"nice":false},"axis":{"values":[0,2,4,6,8,10,12,14],"format":"d","title":["Cellobiose comsumed,","products (mM)"],"labelFontSize":13,"titleFontSize":15,"titleLineHeight":17,"labelPadding":5,"titlePadding":9}},
       "fill":{"field":"p","type":"nominal","scale":{"domain":["Cellobiose consumed","Acetate","Ethanol"],"range":["#000000","#ff0000","#00ff00"]},
        "legend":{"title":null,"orient":"none","legendX":12,"legendY":-14.35,"symbolType":"M-3,-0.6H3V0.6H-3Z","symbolSize":100,"symbolStrokeColor":"#333","symbolStrokeWidth":0.6,"labelFontSize":13.5,"labelOffset":17.7,"rowPadding":1.9,"encode":{"symbols":{"update":{"stroke":{"value":"#333"},"strokeWidth":{"value":0.6}}}}}}}}
    ]}]}
  ]},
  {"title":{"text":"Defined medium (JWCT13 vs JWCT16, acetate tolerance)","fontSize":20.8,"anchor":"middle","baseline":"middle","offset":-6.5,"dx":-17.5},
   "spacing":50.7,"resolve":{"scale":{"fill":"independent","shape":"independent","strokeDash":"independent"}},"hconcat":[
   {"vconcat":[
   {"width":166,"height":178.7,
    "title":{"text":"10 mM acetate","fontSize":16,"anchor":"middle","frame":"group","offset":0,"baseline":"middle","dx":-4,"dy":27.5},
    "data":{"values":[
     {"s":"JWCT13, OD","k":"OD","t":0,"v":0.01},{"s":"JWCT13, OD","k":"OD","t":16.4,"v":0.08},{"s":"JWCT13, OD","k":"OD","t":19.4,"v":0.086},{"s":"JWCT13, OD","k":"OD","t":22.5,"v":0.13},{"s":"JWCT13, OD","k":"OD","t":23.9,"v":0.146},{"s":"JWCT13, OD","k":"OD","t":28,"v":0.26},{"s":"JWCT13, OD","k":"OD","t":30.4,"v":0.316},{"s":"JWCT13, OD","k":"OD","t":32.1,"v":0.358},{"s":"JWCT13, OD","k":"OD","t":40.6,"v":0.556,"e":0.03},{"s":"JWCT13, OD","k":"OD","t":43.8,"v":0.614},{"s":"JWCT13, OD","k":"OD","t":45.9,"v":0.614},{"s":"JWCT13, OD","k":"OD","t":49,"v":0.61},
     {"s":"JWCT16, OD","k":"OD","t":0,"v":0.01},{"s":"JWCT16, OD","k":"OD","t":16.4,"v":0.14},{"s":"JWCT16, OD","k":"OD","t":19.4,"v":0.23},{"s":"JWCT16, OD","k":"OD","t":22.5,"v":0.42,"e":0.03},{"s":"JWCT16, OD","k":"OD","t":23.9,"v":0.48},{"s":"JWCT16, OD","k":"OD","t":28,"v":0.80},{"s":"JWCT16, OD","k":"OD","t":30.4,"v":0.84},{"s":"JWCT16, OD","k":"OD","t":32.1,"v":0.82},{"s":"JWCT16, OD","k":"OD","t":40.6,"v":0.78},{"s":"JWCT16, OD","k":"OD","t":43.8,"v":0.78},{"s":"JWCT16, OD","k":"OD","t":45.9,"v":0.77},{"s":"JWCT16, OD","k":"OD","t":49,"v":0.76},
     {"s":"JWCT13, pH","k":"F","t":0,"v":6.571},{"s":"JWCT13, pH","k":"F","t":16.4,"v":6.575},{"s":"JWCT13, pH","k":"F","t":19.4,"v":6.515},{"s":"JWCT13, pH","k":"F","t":22.5,"v":6.472},{"s":"JWCT13, pH","k":"F","t":23.9,"v":6.43},{"s":"JWCT13, pH","k":"F","t":28,"v":6.373},{"s":"JWCT13, pH","k":"F","t":30.4,"v":6.323},{"s":"JWCT13, pH","k":"F","t":32.1,"v":6.285},{"s":"JWCT13, pH","k":"F","t":40.6,"v":6.196,"e":0.02},{"s":"JWCT13, pH","k":"F","t":43.8,"v":6.121},{"s":"JWCT13, pH","k":"F","t":45.9,"v":6.108},{"s":"JWCT13, pH","k":"F","t":49,"v":6.108},
     {"s":"JWCT16, pH","k":"F","t":0,"v":6.537},{"s":"JWCT16, pH","k":"F","t":16.4,"v":6.537},{"s":"JWCT16, pH","k":"F","t":19.4,"v":6.453},{"s":"JWCT16, pH","k":"F","t":22.5,"v":6.39},{"s":"JWCT16, pH","k":"F","t":23.9,"v":6.37},{"s":"JWCT16, pH","k":"F","t":28,"v":6.22},{"s":"JWCT16, pH","k":"F","t":30.4,"v":6.13},{"s":"JWCT16, pH","k":"F","t":32.1,"v":6.127},{"s":"JWCT16, pH","k":"F","t":40.6,"v":6.047},{"s":"JWCT16, pH","k":"F","t":43.8,"v":6.015},{"s":"JWCT16, pH","k":"F","t":45.9,"v":6.022},{"s":"JWCT16, pH","k":"F","t":49,"v":6.011}
    ]},
    "resolve":{"scale":{"y":"independent"}},
    "layer":[
     {"transform":[{"filter":"datum.k == 'OD'"}],
      "layer":[
       {"mark":{"type":"line","color":"#555","strokeWidth":1},
        "encoding":{
         "x":{"field":"t","type":"quantitative","scale":{"domain":[0,49.6],"nice":false,"zero":false},"axis":{"orient":"bottom","values":[0,10,20,30,40],"title":"Time, h","labelFontSize":11,"titleFontSize":13,"labelPadding":3,"titlePadding":3}},
         "y":{"field":"v","type":"quantitative","scale":{"domain":[0,1.4],"nice":false},"axis":{"orient":"left","values":[0,0.2,0.4,0.6,0.8,1.0,1.2,1.4],"format":".1f","title":"OD600nm","labelFontSize":11,"titleFontSize":11.5,"labelPadding":1,"titlePadding":7}},
         "strokeDash":{"field":"s","type":"nominal","scale":{"range":[[1,0],[1,0],[7,3],[7,3]]},"legend":null}}},
       {"transform":[{"filter":"datum.e > 0"}],
        "mark":{"type":"errorbar","ticks":{"size":5},"color":"#444"},
        "encoding":{
         "x":{"field":"t","type":"quantitative","scale":{"domain":[0,49.6],"nice":false,"zero":false},"axis":null},
         "y":{"field":"v","type":"quantitative","scale":{"domain":[0,1.4],"nice":false},"axis":{"orient":"left","values":[0,0.2,0.4,0.6,0.8,1.0,1.2,1.4],"format":".1f","title":"OD600nm","labelFontSize":11,"titleFontSize":11.5,"labelPadding":1,"titlePadding":7}},
         "yError":{"field":"e"}}},
       {"transform":[{"filter":"indexof(datum.s,'JWCT13')>=0"}],
        "mark":{"type":"point","shape":"circle","filled":true,"fill":"#000000","size":49,"stroke":"#222","strokeWidth":0.8,"opacity":1},
        "encoding":{
         "x":{"field":"t","type":"quantitative","scale":{"domain":[0,49.6],"nice":false,"zero":false},"axis":null},
         "y":{"field":"v","type":"quantitative","scale":{"domain":[0,1.4],"nice":false},"axis":{"orient":"left","values":[0,0.2,0.4,0.6,0.8,1.0,1.2,1.4],"format":".1f","title":"OD600nm","labelFontSize":11,"titleFontSize":11.5,"labelPadding":1,"titlePadding":7}}}},
       {"transform":[{"filter":"indexof(datum.s,'JWCT16')>=0"}],
        "mark":{"type":"point","shape":"M0,1.15L-1.3,-1.05L1.3,-1.05Z","filled":true,"fill":"#ff0000","size":49,"stroke":"#222","strokeWidth":0.8,"opacity":1},
        "encoding":{
         "x":{"field":"t","type":"quantitative","scale":{"domain":[0,49.6],"nice":false,"zero":false},"axis":{"orient":"top","labels":false,"ticks":false,"domain":false,"title":"G","titleFontSize":19,"titleX":-49,"titleY":-44.5,"titleAlign":"left","titleBaseline":"middle","titleAngle":0}},
         "y":{"field":"v","type":"quantitative","scale":{"domain":[0,1.4],"nice":false},"axis":{"orient":"left","values":[0,0.2,0.4,0.6,0.8,1.0,1.2,1.4],"format":".1f","title":"OD600nm","labelFontSize":11,"titleFontSize":11.5,"labelPadding":1,"titlePadding":7}}}},
       {"mark":{"type":"point","filled":true,"size":49,"opacity":0},
        "encoding":{
         "x":{"field":"t","type":"quantitative","scale":{"domain":[0,49.6],"nice":false,"zero":false},"axis":null},
         "y":{"field":"v","type":"quantitative","scale":{"domain":[0,1.4],"nice":false},"axis":{"orient":"left","values":[0,0.2,0.4,0.6,0.8,1.0,1.2,1.4],"format":".1f","title":"OD600nm","labelFontSize":11,"titleFontSize":11.5,"labelPadding":1,"titlePadding":7}},
         "shape":{"field":"s","type":"nominal","scale":{"domain":["JWCT13, OD","JWCT13, pH","JWCT16, OD","JWCT16, pH"],"range":["M-4,0L-1,0M1,0L4,0M-1,0A1,1,0,1,0,1,0A1,1,0,1,0,-1,0Z","M-4,0L-1,0M1,0L4,0M-1,0A1,1,0,1,0,1,0A1,1,0,1,0,-1,0Z","M-4,0L-3,0M-2.3,0L-0.8,0M0.8,0L2.3,0M3,0L4,0M0,1.15L-1.3,-1.05L1.3,-1.05Z","M-4,0L-3,0M-2.3,0L-0.8,0M0.8,0L2.3,0M3,0L4,0M0,1.15L-1.3,-1.05L1.3,-1.05Z"]},"legend":{"title":null,"orient":"none","legendX":-19.7,"legendY":-26.45,"direction":"horizontal","columns":2,"columnPadding":11.4,"rowPadding":-2.7,"labelFontSize":10.5,"labelOffset":16.5,"symbolSize":49,"symbolOpacity":1,"encode":{"symbols":{"update":{"stroke":{"value":"#222"},"strokeWidth":{"value":0.8},"opacity":{"value":1}}}}}},
         "fill":{"field":"s","type":"nominal","scale":{"domain":["JWCT13, OD","JWCT13, pH","JWCT16, OD","JWCT16, pH"],"range":["#000000","#ffffff","#ff0000","#ffffff"]},"legend":{"title":null,"orient":"none","legendX":-19.7,"legendY":-26.45,"direction":"horizontal","columns":2,"columnPadding":11.4,"rowPadding":-2.7,"labelFontSize":10.5,"labelOffset":16.5,"symbolSize":49,"symbolOpacity":1,"encode":{"symbols":{"update":{"stroke":{"value":"#222"},"strokeWidth":{"value":0.8},"opacity":{"value":1}}}}}}}}
      ]},
     {"transform":[{"filter":"datum.k == 'F'"}],
      "layer":[
       {"mark":{"type":"line","color":"#555","strokeWidth":1},
        "encoding":{
         "x":{"field":"t","type":"quantitative","scale":{"domain":[0,49.6],"nice":false,"zero":false},"axis":null},
         "y":{"field":"v","type":"quantitative","scale":{"domain":[6,7],"nice":false,"zero":false},"axis":{"orient":"right","values":[6.0,6.2,6.4,6.6,6.8,7.0],"format":".1f","title":"pH","titleAngle":270,"titleBaseline":"top","labelFontSize":11,"titleFontSize":13,"labelPadding":2,"titlePadding":5}},
         "strokeDash":{"field":"s","type":"nominal","scale":{"range":[[1,0],[1,0],[7,3],[7,3]]},"legend":null}}},
       {"transform":[{"filter":"datum.e > 0"}],
        "mark":{"type":"errorbar","ticks":{"size":5},"color":"#444"},
        "encoding":{
         "x":{"field":"t","type":"quantitative","scale":{"domain":[0,49.6],"nice":false,"zero":false},"axis":null},
         "y":{"field":"v","type":"quantitative","scale":{"domain":[6,7],"nice":false,"zero":false},"axis":{"orient":"right","values":[6.0,6.2,6.4,6.6,6.8,7.0],"format":".1f","title":"pH","titleAngle":270,"titleBaseline":"top","labelFontSize":11,"titleFontSize":13,"labelPadding":2,"titlePadding":5}},
         "yError":{"field":"e"}}},
       {"transform":[{"filter":"indexof(datum.s,'JWCT13')>=0"}],
        "mark":{"type":"point","shape":"circle","filled":true,"fill":"#ffffff","size":49,"stroke":"#222","strokeWidth":0.8,"opacity":1},
        "encoding":{
         "x":{"field":"t","type":"quantitative","scale":{"domain":[0,49.6],"nice":false,"zero":false},"axis":null},
         "y":{"field":"v","type":"quantitative","scale":{"domain":[6,7],"nice":false,"zero":false},"axis":{"orient":"right","values":[6.0,6.2,6.4,6.6,6.8,7.0],"format":".1f","title":"pH","titleAngle":270,"titleBaseline":"top","labelFontSize":11,"titleFontSize":13,"labelPadding":2,"titlePadding":5}}}},
       {"transform":[{"filter":"indexof(datum.s,'JWCT16')>=0"}],
        "mark":{"type":"point","shape":"M0,1.15L-1.3,-1.05L1.3,-1.05Z","filled":true,"fill":"#ffffff","size":49,"stroke":"#222","strokeWidth":0.8,"opacity":1},
        "encoding":{
         "x":{"field":"t","type":"quantitative","scale":{"domain":[0,49.6],"nice":false,"zero":false},"axis":null},
         "y":{"field":"v","type":"quantitative","scale":{"domain":[6,7],"nice":false,"zero":false},"axis":{"orient":"right","values":[6.0,6.2,6.4,6.6,6.8,7.0],"format":".1f","title":"pH","titleAngle":270,"titleBaseline":"top","labelFontSize":11,"titleFontSize":13,"labelPadding":2,"titlePadding":5}}}}
      ]}
    ]}]},
   {"vconcat":[
   {"width":359,"height":193.3,
    "title":{"text":"10 mM acetate","fontSize":16,"anchor":"middle","frame":"group","offset":0,"baseline":"middle","dx":-32.5,"dy":24.5},
    "data":{"values":[
     {"strain":"JWCT13","p":"Cellobiose consumed","v":4.78,"e":0.04},{"strain":"JWCT13","p":"Acetate","v":3.93,"e":0.08},{"strain":"JWCT13","p":"Ethanol","v":5.29,"e":0.06},{"strain":"JWCT13","p":"Lactate","v":0.43,"e":0},
     {"strain":"JWCT16","p":"Cellobiose consumed","v":6.31,"e":0.04},{"strain":"JWCT16","p":"Acetate","v":3.25,"e":0.08},{"strain":"JWCT16","p":"Ethanol","v":8.71,"e":0.11},{"strain":"JWCT16","p":"Lactate","v":0.55,"e":0}
    ]},
    "layer":[
     {"transform":[{"filter":"datum.e > 0"}],
      "mark":{"type":"errorbar","ticks":{"size":7},"color":"#333"},
      "encoding":{
       "x":{"field":"strain","type":"nominal","scale":{"paddingInner":0,"paddingOuter":0},"axis":{"orient":"top","labels":false,"ticks":false,"domain":false,"title":"H","titleFontSize":19,"titleX":-63,"titleY":-29,"titleAlign":"left","titleBaseline":"middle","titleAngle":0}},
       "xOffset":{"field":"p","type":"nominal","scale":{"domain":["Cellobiose consumed","Acetate","Ethanol","Lactate"],"paddingInner":0,"paddingOuter":1.35}},
       "y":{"field":"v","type":"quantitative","scale":{"domain":[0,11],"nice":false},"axis":{"values":[0,2,4,6,8,10],"format":"d","title":["Cellobiose comsumed,","products (mM)"],"labelFontSize":12.5,"titleFontSize":15,"titleLineHeight":17,"labelPadding":5,"titlePadding":9}},
       "yError":{"field":"e"}}},
     {"mark":{"type":"bar","stroke":"#333","strokeWidth":0.6},
      "encoding":{
       "x":{"field":"strain","type":"nominal","scale":{"paddingInner":0,"paddingOuter":0},"axis":{"orient":"bottom","title":null,"labelAngle":0,"labelFontSize":15,"labelPadding":7}},
       "xOffset":{"field":"p","type":"nominal","scale":{"domain":["Cellobiose consumed","Acetate","Ethanol","Lactate"],"paddingInner":0,"paddingOuter":1.35}},
       "y":{"field":"v","type":"quantitative","scale":{"domain":[0,11],"nice":false},"axis":{"values":[0,2,4,6,8,10],"format":"d","title":["Cellobiose comsumed,","products (mM)"],"labelFontSize":12.5,"titleFontSize":15,"titleLineHeight":17,"labelPadding":5,"titlePadding":9}},
       "fill":{"field":"p","type":"nominal","scale":{"domain":["Cellobiose consumed","Acetate","Ethanol","Lactate"],"range":["#000000","#ff0000","#00ff00","#ffff00"]},
        "legend":{"title":null,"orient":"none","legendX":18.2,"legendY":0,"symbolType":"M-3,-0.6H3V0.6H-3Z","symbolSize":100,"symbolStrokeColor":"#333","symbolStrokeWidth":0.6,"labelFontSize":13.5,"labelOffset":17.8,"rowPadding":1.9,"encode":{"symbols":{"update":{"stroke":{"value":"#333"},"strokeWidth":{"value":0.6}}}}}}}}
    ]}]}
  ]}
 ]}
]}
]
}
